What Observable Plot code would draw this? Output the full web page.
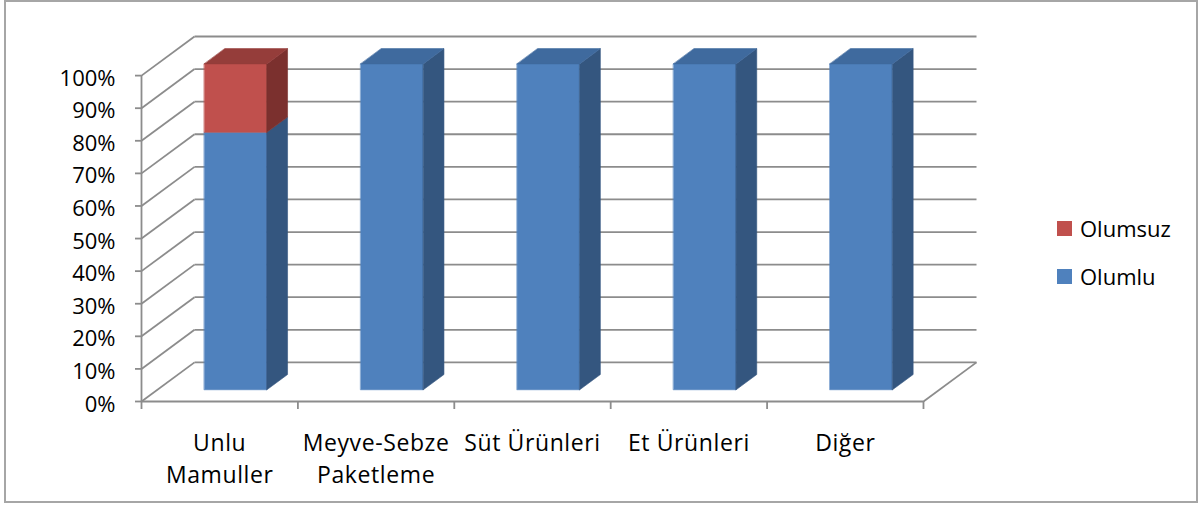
<!DOCTYPE html>
<html>
<head>
<meta charset="utf-8">
<script src="https://cdn.jsdelivr.net/npm/d3@7"></script>
<script src="https://cdn.jsdelivr.net/npm/@observablehq/plot@0.6"></script>
<style>
  html, body { margin: 0; padding: 0; background: #fff; }
  #wrap { position: relative; width: 1204px; height: 508px; font-family: "Open Sans", sans-serif; }
  #border { position: absolute; left: 4px; top: 0px; width: 1194px; height: 503px; border: 2px solid #a6a6a6; box-sizing: border-box; }
  #chart { position: absolute; left: 0; top: 0; }
  #legend { position: absolute; left: 1057px; top: 212px; font-size: 22px; color: #000; }
  .row { display: flex; align-items: center; height: 32px; margin-bottom: 16px; }
  .sw { width: 15px; height: 15px; margin-right: 8px; }
  .xlab { letter-spacing: 0.6px; }
</style>
</head>
<body>
<div id="wrap">
  <div id="border"></div>
  <div id="chart"></div>
  <div id="legend"></div>
</div>
<script>
// ---- data ----
const categories = ["Unlu\nMamuller", "Meyve-Sebze\nPaketleme", "Süt Ürünleri", "Et Ürünleri", "Diğer"];
const seriesNames = ["Olumlu", "Olumsuz"];
const olumlu = [79, 100, 100, 100, 100];
const olumsuz = [21, 0, 0, 0, 0];
const yTicks = [0, 10, 20, 30, 40, 50, 60, 70, 80, 90, 100];

// ---- styles ----
const GRID = "#8c8c8c";
const SW = 1.8;
const FRONT = {Olumlu: "#4F81BD", Olumsuz: "#C0504D"};
const SIDE = {Olumlu: "#34567F", Olumsuz: "#7B302E"};
const TOP = {Olumlu: "#3F6A9E", Olumsuz: "#953D3A"};
const legendOrder = ["Olumsuz", "Olumlu"];

// oblique depth projection (data units per unit of depth)
const KX = 0.339, KY = 12;
const n = categories.length;
const P = (x, y, z) => ({x: x + z * KX, y: y + z * KY});
const ZF = 0.30, ZB = 0.69, HALF = 0.2;

// build bar faces from the series
const values = {Olumlu: olumlu, Olumsuz: olumsuz};
const faces = [];
categories.forEach((c, i) => {
  let base = 0;
  const segs = seriesNames.map(s => {
    const v = values[s][i];
    const seg = {s, y0: base, y1: base + v};
    base += v;
    return seg;
  }).filter(d => d.y1 > d.y0);
  const x0 = i + 0.5 - HALF, x1 = i + 0.5 + HALF;
  segs.forEach((g, k) => {
    const push = (id, color, pts) => pts.forEach(p => faces.push({id, color, ...p}));
    push(`${i}-${g.s}-front`, FRONT[g.s], [P(x0, g.y0, ZF), P(x1, g.y0, ZF), P(x1, g.y1, ZF), P(x0, g.y1, ZF)]);
    push(`${i}-${g.s}-side`, SIDE[g.s], [P(x1, g.y0, ZF), P(x1, g.y0, ZB), P(x1, g.y1, ZB), P(x1, g.y1, ZF)]);
    if (k === segs.length - 1)
      push(`${i}-${g.s}-top`, TOP[g.s], [P(x0, g.y1, ZF), P(x1, g.y1, ZF), P(x1, g.y1, ZB), P(x0, g.y1, ZB)]);
  });
});

const chart = Plot.plot({
  width: 1204,
  height: 508,
  marginLeft: 141,
  marginRight: 228,
  marginTop: 36,
  marginBottom: 107,
  style: {fontFamily: "'Open Sans', sans-serif", color: "#000", background: "transparent"},
  x: {domain: [0, n + KX], label: null},
  y: {domain: [0, 100 + KY], label: null},
  color: {type: "identity"},
  marks: [
    // back wall gridlines
    Plot.link(yTicks, {x1: () => P(0, 0, 1).x, x2: () => P(n, 0, 1).x, y1: d => P(0, d, 1).y, y2: d => P(0, d, 1).y, stroke: GRID, strokeWidth: SW}),
    // left wall diagonals
    Plot.link(yTicks, {x1: 0, y1: d => d, x2: () => P(0, 0, 1).x, y2: d => P(0, d, 1).y, stroke: GRID, strokeWidth: SW}),
    // floor right edge
    Plot.link([n], {x1: d => d, y1: 0, x2: d => P(d, 0, 1).x, y2: () => P(0, 0, 1).y, stroke: GRID, strokeWidth: SW}),
    // front axes lines
    Plot.ruleY([0], {x1: 0, x2: n, stroke: GRID, strokeWidth: SW}),
    Plot.ruleX([0], {y1: 0, y2: 100, stroke: GRID, strokeWidth: SW}),
    Plot.axisY(yTicks, {tickSize: 6, tickFormat: () => "", stroke: GRID, strokeWidth: SW}),
    Plot.axisX(d3.range(n + 1), {tickSize: 8, tickFormat: () => "", stroke: GRID, strokeWidth: SW}),
    // bars
    Plot.line(faces, {x: "x", y: "y", z: "id", fill: "color", stroke: "color", strokeWidth: 0.6, curve: "linear-closed"}),
    // labels
    Plot.text(yTicks, {x: 0, y: d => d, text: d => `${d}%`, textAnchor: "end", dx: -26, dy: 3, fontSize: 22, fill: "#000"}),
    Plot.text(categories, {x: (d, i) => i + 0.5, y: 0, text: d => d, lineAnchor: "top", dy: 27, fontSize: 23, lineHeight: 32 / 23, fill: "#000", className: "xlab"})
  ]
});
document.getElementById("chart").appendChild(chart);

const legend = document.getElementById("legend");
legendOrder.forEach(s => {
  const row = document.createElement("div");
  row.className = "row";
  const sw = document.createElement("div");
  sw.className = "sw";
  sw.style.background = FRONT[s];
  const t = document.createElement("span");
  t.textContent = s;
  row.appendChild(sw);
  row.appendChild(t);
  legend.appendChild(row);
});
</script>
</body>
</html>
